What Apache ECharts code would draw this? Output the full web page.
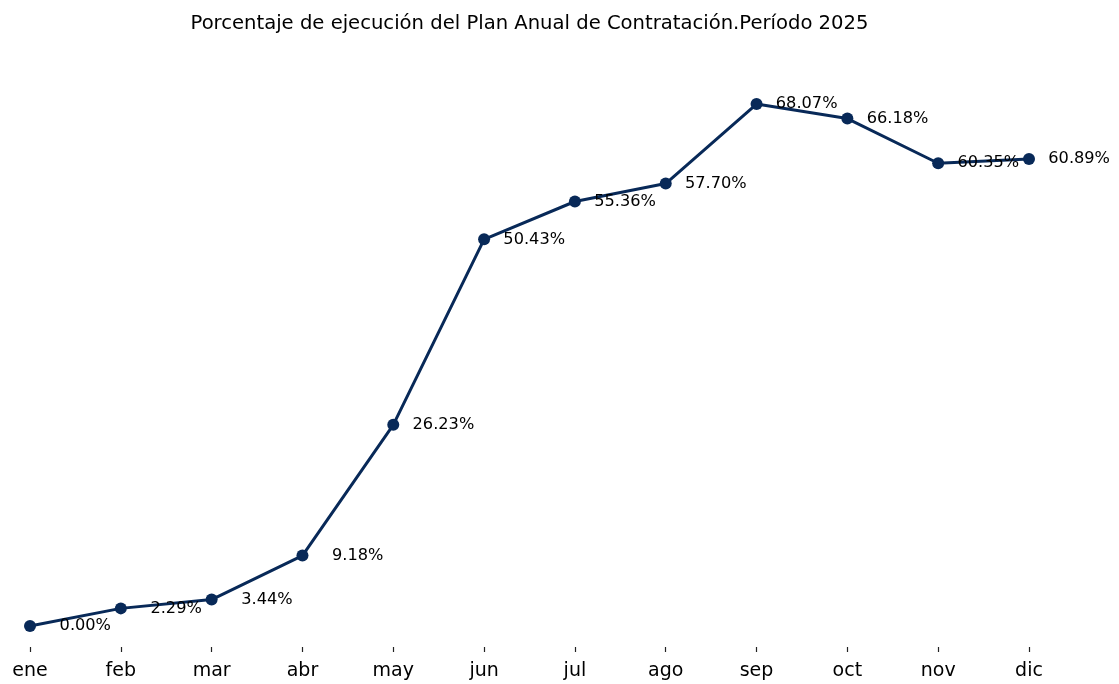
<!DOCTYPE html>
<html>
<head>
<meta charset="utf-8">
<script src="https://cdn.jsdelivr.net/npm/echarts@6/dist/echarts.min.js"></script>
<style>
  html, body { margin: 0; padding: 0; background: #fff; }
  #chart { width: 1119px; height: 684px; }
</style>
</head>
<body>
<div id="chart"></div>
<script>
// meses y porcentaje de ejecución
const meses = ['ene', 'feb', 'mar', 'abr', 'may', 'jun', 'jul', 'ago', 'sep', 'oct', 'nov', 'dic']
const ejecucion = [0.00, 2.29, 3.44, 9.18, 26.23, 50.43, 55.36, 57.70, 68.07, 66.18, 60.35, 60.89]
const titulo = 'Porcentaje de ejecución del Plan Anual de Contratación.Período 2025'

const chart = echarts.init(document.getElementById('chart'))
const font = 'DejaVu Sans'

chart.setOption({
  animation: false,
  title: {
    text: titulo,
    left: 524.5,
    top: 9,
    textAlign: 'center',
    textStyle: { fontFamily: font, fontSize: 19.6, fontWeight: 'normal', color: '#000' }
  },
  grid: { left: 30, right: 90, top: 78, bottom: 32, containLabel: false },
  xAxis: {
    type: 'category',
    data: meses,
    boundaryGap: false,
    axisLine: { show: false, onZero: false },
    axisTick: { show: true, inside: true, alignWithLabel: true, length: 5, lineStyle: { color: '#222', width: 1.2 } },
    axisLabel: { fontFamily: font, fontSize: 19, color: '#000', margin: 10 },
    splitLine: { show: false }
  },
  yAxis: {
    type: 'value',
    min: -3.40,
    max: 71.47,
    show: false
  },
  series: [{
    type: 'line',
    data: ejecucion,
    symbol: 'circle',
    symbolSize: 12,
    lineStyle: { color: '#082958', width: 3 },
    itemStyle: { color: '#082958' },
    label: {
      show: true,
      position: 'right',
      distance: 75,
      align: 'right',
      verticalAlign: 'middle',
      formatter: p => p.value.toFixed(2) + '%',
      fontFamily: font,
      fontSize: 16.2,
      color: '#000'
    },
    labelLayout: { hideOverlap: false }
  }]
})
</script>
</body>
</html>
